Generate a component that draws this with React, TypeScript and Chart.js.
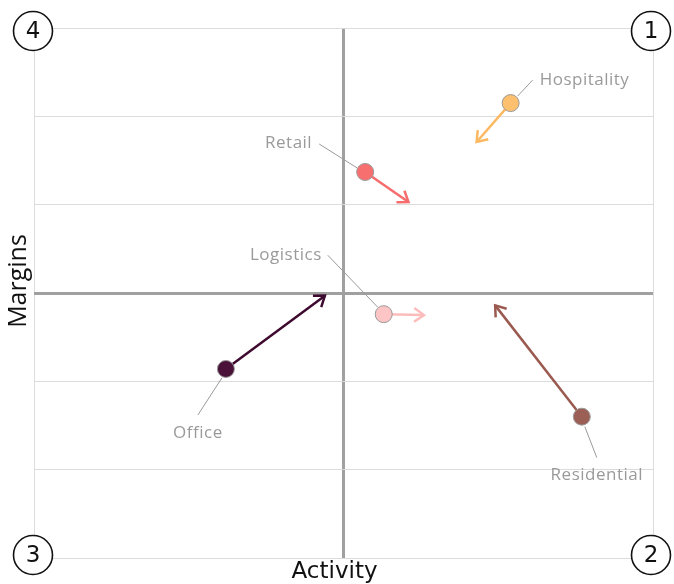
import React, { useEffect, useRef } from 'react';
import { Chart, registerables } from 'chart.js';

Chart.register(...registerables);

// Sector positions: current reading and projected direction
const sectors = ['Hospitality', 'Retail', 'Logistics', 'Office', 'Residential'];
const activityNow = [0.54, 0.07, 0.13, -0.38, 0.77];
const marginsNow = [2.15, 1.37, -0.24, -0.86, -1.4];
const activityNext = [0.43, 0.21, 0.26, -0.06, 0.49];
const marginsNext = [1.71, 1.03, -0.25, -0.03, -0.14];
const quadrantNumbers = ['1', '2', '3', '4'];
const axisTitles = { x: 'Activity', y: 'Margins' };

const sectorColors = ['#fcc06f', '#f7706f', '#fdc5c5', '#4a1238', '#9c5f56'];
const arrowColors = ['#fcb962', '#f76c6c', '#fdbcbc', '#3e0a2f', '#9a5a50'];

const LABEL_FONT = '17px "Open Sans", sans-serif';
const LABEL_COLOR = '#9a9a9a';

type Placement = {
  dx: number;
  dy: number;
  align: CanvasTextAlign;
  from: [number, number];
  to: [number, number];
};

// Label and leader-line offsets in pixels around each point
const placements: Placement[] = [
  { dx: 29, dy: -23, align: 'left', from: [7, -7], to: [22, -23] },
  { dx: -53, dy: -29, align: 'right', from: [-8, -4], to: [-46, -28] },
  { dx: -62, dy: -59, align: 'right', from: [-6, -7], to: [-56, -59] },
  { dx: -28, dy: 64, align: 'center', from: [-4, 9], to: [-28, 46] },
  { dx: 15, dy: 58, align: 'center', from: [3, 10], to: [15, 41] },
];

const annotations = {
  id: 'sectorAnnotations',
  beforeDatasetsDraw(chart: any) {
    const { ctx, scales } = chart;
    const xs = scales.x;
    const ys = scales.y;
    ctx.save();
    sectors.forEach((_, i) => {
      const x0 = xs.getPixelForValue(activityNow[i]);
      const y0 = ys.getPixelForValue(marginsNow[i]);
      const x1 = xs.getPixelForValue(activityNext[i]);
      const y1 = ys.getPixelForValue(marginsNext[i]);
      const ang = Math.atan2(y1 - y0, x1 - x0);
      const head = 12;
      const spread = 0.62;
      ctx.strokeStyle = arrowColors[i];
      ctx.lineWidth = 2.5;
      ctx.lineCap = 'butt';
      ctx.lineJoin = 'miter';
      ctx.beginPath();
      ctx.moveTo(x0, y0);
      ctx.lineTo(x1, y1);
      ctx.stroke();
      ctx.beginPath();
      ctx.moveTo(x1 - head * Math.cos(ang - spread), y1 - head * Math.sin(ang - spread));
      ctx.lineTo(x1, y1);
      ctx.lineTo(x1 - head * Math.cos(ang + spread), y1 - head * Math.sin(ang + spread));
      ctx.stroke();

      const p = placements[i];
      ctx.strokeStyle = LABEL_COLOR;
      ctx.lineWidth = 1;
      ctx.beginPath();
      ctx.moveTo(x0 + p.from[0], y0 + p.from[1]);
      ctx.lineTo(x0 + p.to[0], y0 + p.to[1]);
      ctx.stroke();
    });
    ctx.restore();
  },
  afterDatasetsDraw(chart: any) {
    const { ctx, scales } = chart;
    ctx.save();
    ctx.font = LABEL_FONT;
    ctx.fillStyle = LABEL_COLOR;
    ctx.textBaseline = 'middle';
    (ctx as any).letterSpacing = '0.5px';
    sectors.forEach((name, i) => {
      const x0 = scales.x.getPixelForValue(activityNow[i]);
      const y0 = scales.y.getPixelForValue(marginsNow[i]);
      const p = placements[i];
      ctx.textAlign = p.align;
      ctx.fillText(name, x0 + p.dx, y0 + p.dy);
    });
    ctx.restore();
  },
  afterDraw(chart: any) {
    const { ctx, chartArea } = chart;
    const { left, right, top, bottom } = chartArea;

    // Axis titles
    ctx.save();
    ctx.fillStyle = '#111111';
    ctx.textAlign = 'center';
    ctx.textBaseline = 'middle';
    ctx.font = '23px "DejaVu Sans", sans-serif';
    ctx.fillText(axisTitles.x, (left + right) / 2 - 9, bottom + 14);
    ctx.translate(left - 15, (top + bottom) / 2 - 12);
    ctx.rotate(-Math.PI / 2);
    ctx.font = '25px "Open Sans", sans-serif';
    ctx.fillText(axisTitles.y, 0, 0);
    ctx.restore();

    // Numbered quadrant markers on the corners
    const centers: [number, number][] = [
      [right - 2, top + 3],
      [right - 2, bottom - 3],
      [left - 1, bottom - 3],
      [left - 1, top + 3],
    ];
    ctx.save();
    ctx.font = '23px "DejaVu Sans", sans-serif';
    ctx.textAlign = 'center';
    ctx.textBaseline = 'middle';
    centers.forEach(([cx, cy], i) => {
      ctx.beginPath();
      ctx.arc(cx, cy, 19.5, 0, Math.PI * 2);
      ctx.fillStyle = '#ffffff';
      ctx.fill();
      ctx.lineWidth = 1.6;
      ctx.strokeStyle = '#111111';
      ctx.stroke();
      ctx.fillStyle = '#111111';
      ctx.fillText(quadrantNumbers[i], cx, cy + 1);
    });
    ctx.restore();
  },
};

const gridColor = (c: any) => (c.tick && c.tick.value === 0 ? '#a0a0a0' : '#dcdcdc');
const gridWidth = (c: any) => (c.tick && c.tick.value === 0 ? 3 : 1);

export default function App() {
  const canvasRef = useRef<HTMLCanvasElement | null>(null);

  useEffect(() => {
    if (!canvasRef.current) return;
    const chart = new Chart(canvasRef.current, {
      type: 'scatter',
      data: {
        datasets: [
          {
            data: sectors.map((_, i) => ({ x: activityNow[i], y: marginsNow[i] })),
            backgroundColor: sectorColors,
            borderColor: '#9a9a9a',
            borderWidth: 1,
            pointRadius: 8.5,
            pointHoverRadius: 8.5,
          },
        ],
      },
      options: {
        responsive: false,
        animation: false,
        layout: { padding: { left: 34, right: 21, top: 28, bottom: 26 } },
        plugins: {
          legend: { display: false },
          tooltip: { enabled: false },
        },
        scales: {
          x: {
            type: 'linear',
            min: -1,
            max: 1,
            ticks: { display: false, stepSize: 1 },
            grid: { color: gridColor, lineWidth: gridWidth, drawTicks: false },
            border: { display: false },
          },
          y: {
            type: 'linear',
            min: -3,
            max: 3,
            ticks: { display: false, stepSize: 1 },
            grid: { color: gridColor, lineWidth: gridWidth, drawTicks: false },
            border: { display: false },
          },
        },
      },
      plugins: [annotations],
    });
    return () => chart.destroy();
  }, []);

  return (
    <div style={{ position: 'fixed', left: 0, top: 0, width: 674, height: 584, background: '#ffffff' }}>
      <canvas ref={canvasRef} width={674} height={584} style={{ display: 'block' }} />
    </div>
  );
}
